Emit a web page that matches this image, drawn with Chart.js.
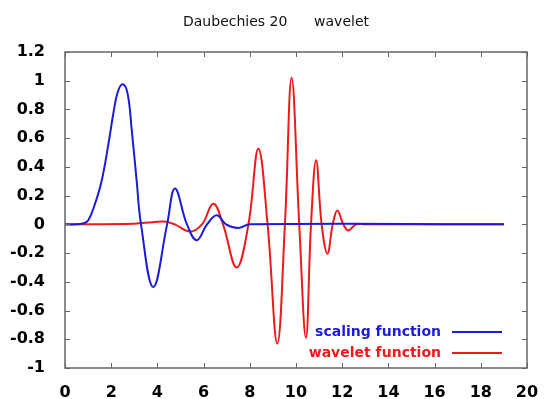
<!DOCTYPE html>
<html>
<head>
<meta charset="utf-8">
<script src="https://cdn.jsdelivr.net/npm/chart.js@4/dist/chart.umd.min.js"></script>
<style>
html,body{margin:0;padding:0;background:#fff;}
#c{display:block;}
</style>
</head>
<body>
<canvas id="c" width="552" height="399"></canvas>
<script>
// ---- data ----
const titleText = 'Daubechies 20      wavelet';
const seriesNames = ['scaling function', 'wavelet function'];
const xTickValues = [0, 2, 4, 6, 8, 10, 12, 14, 16, 18, 20];
const yTickValues = [-1, -0.8, -0.6, -0.4, -0.2, 0, 0.2, 0.4, 0.6, 0.8, 1, 1.2];
const yTickLabels = ['-1', '-0.8', '-0.6', '-0.4', '-0.2', '0', '0.2', '0.4', '0.6', '0.8', '1', '1.2'];

const scalingX = [0, 0.5, 0.8, 1.01, 1.30, 1.59, 1.88, 2.09, 2.28, 2.5, 2.71, 2.89, 3.1, 3.29, 3.82, 4.42, 4.76, 5.28, 5.7, 6.15, 6.57, 6.97, 7.5, 8.0, 19];
const scalingY = [0, 0, 0.008, 0.028, 0.144, 0.306, 0.56, 0.77, 0.92, 0.975, 0.91, 0.655, 0.306, 0.0, -0.437, 0.0, 0.25, 0.0, -0.11, 0.0, 0.063, 0.0, -0.025, 0, 0];

const waveletX = [0, 3.0, 3.8, 4.3, 4.75, 5.41, 5.93, 6.42, 6.84, 7.43, 7.94, 8.37, 8.77, 9.19, 9.52, 9.81, 10.14, 10.43, 10.65, 10.87, 11.11, 11.36, 11.59, 11.79, 12.05, 12.27, 12.6, 13, 19];
const waveletY = [0, 0.005, 0.015, 0.02, 0.0, -0.05, 0.0, 0.144, 0.0, -0.30, 0.0, 0.527, 0.0, -0.83, 0.0, 1.02, 0.0, -0.79, 0.0, 0.446, 0.0, -0.204, 0.0, 0.097, 0.0, -0.042, 0.0, 0, 0];

const colors = ['#1c1cd8', '#ec1a1a'];

function pts(xs, ys) { return xs.map((x, i) => ({ x: x, y: ys[i] })); }

const FONT = 'DejaVu Sans';

const framePlugin = {
  id: 'frame',
  afterDraw(chart) {
    const ctx = chart.ctx;
    const a = chart.chartArea;
    const xs = chart.scales.x, ys = chart.scales.y;
    ctx.save();
    ctx.strokeStyle = '#666';
    ctx.lineWidth = 1.5;
    ctx.strokeRect(a.left, a.top, a.right - a.left, a.bottom - a.top);
    ctx.lineWidth = 1;
    ctx.beginPath();
    const tl = 5;
    xTickValues.forEach(v => {
      const px = Math.round(xs.getPixelForValue(v)) + 0.5;
      ctx.moveTo(px, a.bottom); ctx.lineTo(px, a.bottom - tl);
      ctx.moveTo(px, a.top); ctx.lineTo(px, a.top + tl);
    });
    yTickValues.forEach(v => {
      const py = Math.round(ys.getPixelForValue(v)) + 0.5;
      ctx.moveTo(a.left, py); ctx.lineTo(a.left + tl, py);
      ctx.moveTo(a.right, py); ctx.lineTo(a.right - tl, py);
    });
    ctx.stroke();
    // title
    ctx.fillStyle = '#111';
    ctx.font = '14px "' + FONT + '"';
    ctx.textAlign = 'center';
    ctx.textBaseline = 'middle';
    ctx.fillText(titleText, 276, 22);
    // legend (text then line sample)
    ctx.font = 'bold 14px "' + FONT + '"';
    ctx.textAlign = 'right';
    chart.data.datasets.forEach((ds, i) => {
      const y = 332 + 21 * i;
      ctx.fillStyle = ds.borderColor;
      ctx.fillText(ds.label, 441, y);
      ctx.strokeStyle = ds.borderColor;
      ctx.lineWidth = 2;
      ctx.beginPath();
      ctx.moveTo(452, y); ctx.lineTo(502, y);
      ctx.stroke();
    });
    ctx.restore();
  }
};

new Chart(document.getElementById('c'), {
  type: 'line',
  data: {
    datasets: [
      { label: seriesNames[0], data: pts(scalingX, scalingY), borderColor: colors[0], borderWidth: 2, pointRadius: 0, tension: 0.4, fill: false },
      { label: seriesNames[1], data: pts(waveletX, waveletY), borderColor: colors[1], borderWidth: 2, pointRadius: 0, tension: 0.4, fill: false }
    ]
  },
  options: {
    responsive: false,
    animation: false,
    devicePixelRatio: 1,
    layout: { padding: { top: 52, right: 25, left: 0, bottom: 0 } },
    plugins: { legend: { display: false }, title: { display: false }, tooltip: { enabled: false } },
    scales: {
      x: {
        type: 'linear', min: 0, max: 20,
        afterBuildTicks: s => { s.ticks = xTickValues.map(v => ({ value: v })); },
        afterFit: s => { s.height = 31; },
        grid: { display: false }, border: { display: false },
        ticks: { color: '#000', padding: 7, maxRotation: 0, autoSkip: false, font: { family: FONT, size: 16, weight: 'bold' } }
      },
      y: {
        type: 'linear', min: -1, max: 1.2,
        afterBuildTicks: s => { s.ticks = yTickValues.map(v => ({ value: v })); },
        afterFit: s => { s.width = 65; },
        grid: { display: false }, border: { display: false },
        ticks: {
          color: '#000', padding: 12, autoSkip: false, font: { family: FONT, size: 16, weight: 'bold' },
          callback: v => { const i = yTickValues.findIndex(t => Math.abs(t - v) < 1e-6); return i >= 0 ? yTickLabels[i] : ''; }
        }
      }
    }
  },
  plugins: [framePlugin]
});
</script>
</body>
</html>
